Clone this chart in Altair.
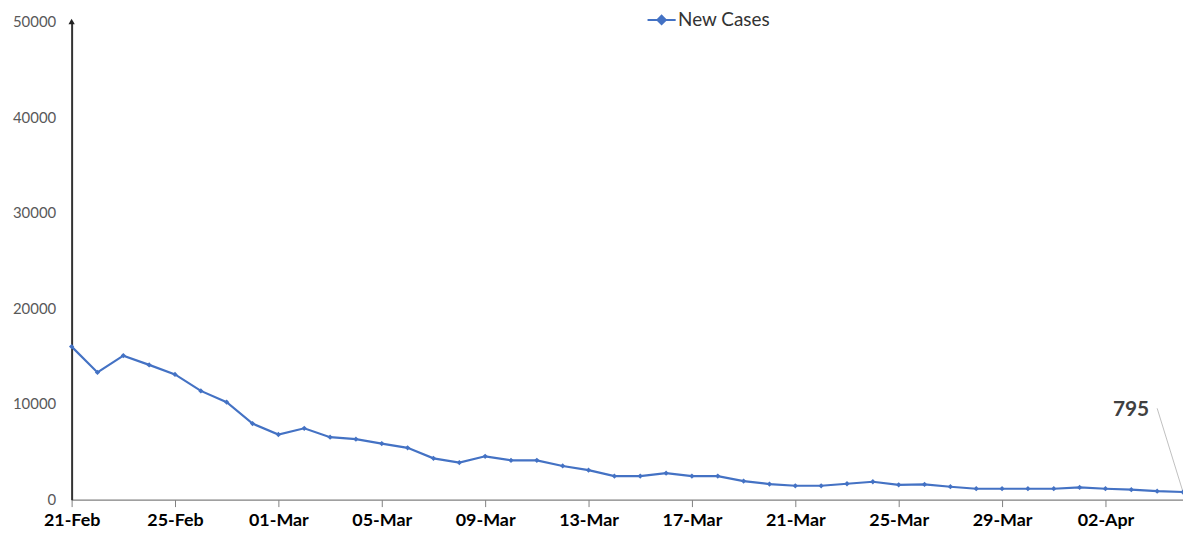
import altair as alt
import pandas as pd

dates = pd.date_range("2021-02-21", "2021-04-05", freq="D").strftime("%Y-%m-%d").tolist()
new_cases = [16000, 13300, 15060, 14090, 13090, 11370, 10190, 7950, 6810, 7460,
             6530, 6320, 5860, 5420, 4320, 3870, 4530, 4110, 4110, 3520,
             3080, 2460, 2460, 2770, 2460, 2460, 1940, 1630, 1450, 1450,
             1660, 1870, 1550, 1590, 1350, 1140, 1140, 1140, 1140, 1280,
             1140, 1040, 880, 795]
series_name = ["New Cases"] * len(dates)
tick_dates = ["2021-02-21", "2021-02-25", "2021-03-01", "2021-03-05", "2021-03-09",
              "2021-03-13", "2021-03-17", "2021-03-21", "2021-03-25", "2021-03-29",
              "2021-04-02"]
y_ticks = [0, 10000, 20000, 30000, 40000, 50000]
last_label = "795"
annot_anchor_date = ["2021-04-04T00:00:00", "2021-04-05"]
annot_anchor_val = [9550, 795]

df = pd.DataFrame({"date": dates, "cases": new_cases, "series": series_name})

FONT = "Lato"
BLUE = "#4472C4"

x_enc = alt.X("date:T",
              scale=alt.Scale(domain=[dates[0], dates[-1]]),
              axis=alt.Axis(values=tick_dates, format="%d-%b", title=None, grid=False,
                            labelFont=FONT, labelFontSize=18, labelFontWeight="bold",
                            labelColor="#000000", labelPadding=5, tickSize=7,
                            tickColor="#808080", domainColor="#808080", domainWidth=1.5,
                            labelFlush=False, labelOverlap=False))
y_enc = alt.Y("cases:Q",
              scale=alt.Scale(domain=[0, 50000], nice=False),
              axis=alt.Axis(values=y_ticks, format="d", title=None, grid=False, ticks=False,
                            labelFont=FONT, labelFontSize=15, labelColor="#595959",
                            labelPadding=16, domainColor="#333333", domainWidth=2))

line = alt.Chart(df).mark_line(strokeWidth=2.2).encode(
    x=x_enc, y=y_enc,
    color=alt.Color("series:N", scale=alt.Scale(range=[BLUE]),
                    legend=alt.Legend(title=None, orient="none", legendX=578, legendY=-17,
                                      symbolType="M-1,0H1M0,-0.3L0.3,0L0,0.3L-0.3,0Z",
                                      symbolSize=800, symbolStrokeWidth=2,
                                      symbolFillColor=BLUE,
                                      labelFont=FONT, labelFontSize=19, labelColor="#333333",
                                      labelOffset=1)))

pts = alt.Chart(df).mark_point(shape="diamond", filled=True, size=28, color=BLUE, opacity=1).encode(
    x="date:T", y="cases:Q")

arrow = alt.Chart(pd.DataFrame({"date": [dates[0]], "cases": [y_ticks[-1]]})).mark_point(
    shape="triangle-up", filled=True, size=40, color="#222222", opacity=1).encode(
    x="date:T", y="cases:Q")

ann_df = pd.DataFrame({"date": annot_anchor_date, "cases": annot_anchor_val})
leader = alt.Chart(ann_df).mark_line(color="#BFBFBF", strokeWidth=1).encode(
    x="date:T", y="cases:Q")

label = alt.Chart(pd.DataFrame({"date": [annot_anchor_date[0]], "cases": [annot_anchor_val[0]],
                                "t": [last_label]})).mark_text(
    align="right", baseline="middle", dx=-8, dy=2, font=FONT, fontSize=21,
    fontWeight="bold", color="#404040").encode(x="date:T", y="cases:Q", text="t:N")

chart = alt.layer(leader, line, pts, arrow, label).properties(
    width=1118, height=481,
    autosize=alt.AutoSizeParams(type="none"),
    padding={"left": 64, "top": 12, "right": 0, "bottom": 30},
).configure_view(stroke=None)

chart.save("out.html", embed_options={"renderer": "svg", "actions": False})
